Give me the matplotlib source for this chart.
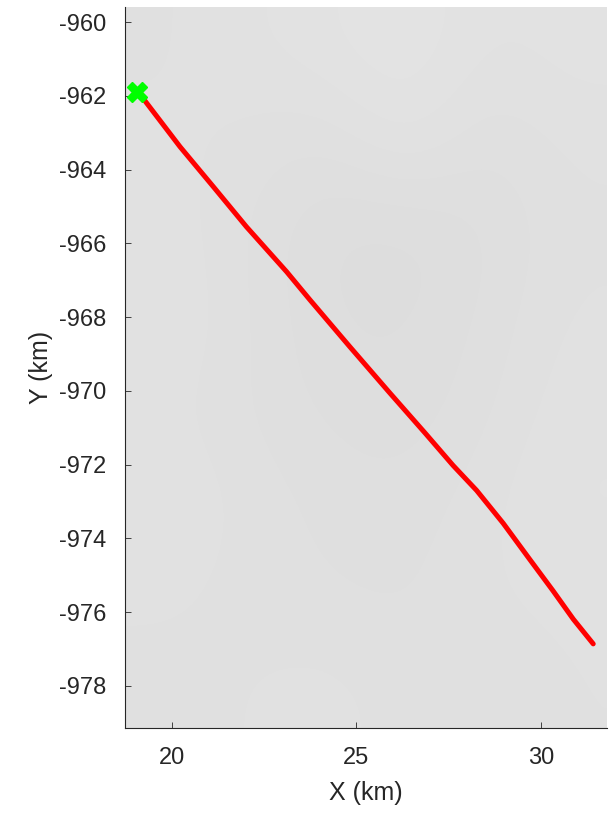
import numpy as np
import matplotlib
matplotlib.use("Agg")
import matplotlib.pyplot as plt

plt.rcParams['font.family'] = ['Liberation Sans', 'DejaVu Sans']
plt.rcParams['axes.unicode_minus'] = False

# track (km)
track_x = [19.05, 19.22, 20.22, 21.12, 22.02, 23.11, 23.74, 24.82, 25.91,
           26.86, 27.62, 28.26, 28.98, 29.70, 30.33, 30.88, 31.42]
track_y = [-961.90, -962.07, -963.38, -964.46, -965.55, -966.77, -967.53,
           -968.80, -970.06, -971.14, -972.02, -972.70, -973.59, -974.57,
           -975.42, -976.19, -976.86]

x_ticks = [20, 25, 30]
y_ticks = list(range(-978, -959, 2))

# coarse grey levels of the background image (rows top -> bottom)
background = [
    [0.878, 0.882, 0.886, 0.892, 0.882, 0.885],
    [0.880, 0.878, 0.874, 0.886, 0.874, 0.880],
    [0.882, 0.875, 0.866, 0.864, 0.870, 0.878],
    [0.884, 0.876, 0.867, 0.866, 0.872, 0.880],
    [0.880, 0.875, 0.870, 0.868, 0.874, 0.882],
    [0.884, 0.878, 0.874, 0.872, 0.878, 0.884],
    [0.880, 0.877, 0.875, 0.874, 0.879, 0.880],
    [0.877, 0.879, 0.881, 0.877, 0.875, 0.879],
]

xlim = (18.73, 31.79)
ylim = (-979.14, -959.60)

fig = plt.figure(figsize=(6.13, 8.17), dpi=100)
ax = fig.add_axes([0.204, 0.109, 0.786, 0.882])

ax.imshow(np.array(background), cmap='gray', vmin=0, vmax=1,
          extent=(xlim[0], xlim[1], ylim[0], ylim[1]),
          interpolation='bicubic', aspect='auto', zorder=0)

ax.plot(track_x, track_y, color='#ff0000', lw=3.6, solid_capstyle='round',
        solid_joinstyle='round', zorder=2)
ax.plot(track_x[0], track_y[0], marker='X', ms=14, color='#00ff00',
        mec='#00ff00', ls='none', zorder=3)

ax.set_xlim(*xlim)
ax.set_ylim(*ylim)
ax.set_xticks(x_ticks)
ax.set_yticks(y_ticks)

for side in ('top', 'right'):
    ax.spines[side].set_visible(False)
for side in ('left', 'bottom'):
    ax.spines[side].set_color('#262626')
    ax.spines[side].set_linewidth(0.8)

ax.tick_params(direction='in', length=4, width=0.6, colors='#262626',
               labelsize=17, pad=13.5)
ax.set_xlabel('X (km)', fontsize=18, color='#262626', labelpad=9)
ax.set_ylabel('Y (km)', fontsize=18, color='#262626', labelpad=4)

fig.savefig('out.png', dpi=100)
